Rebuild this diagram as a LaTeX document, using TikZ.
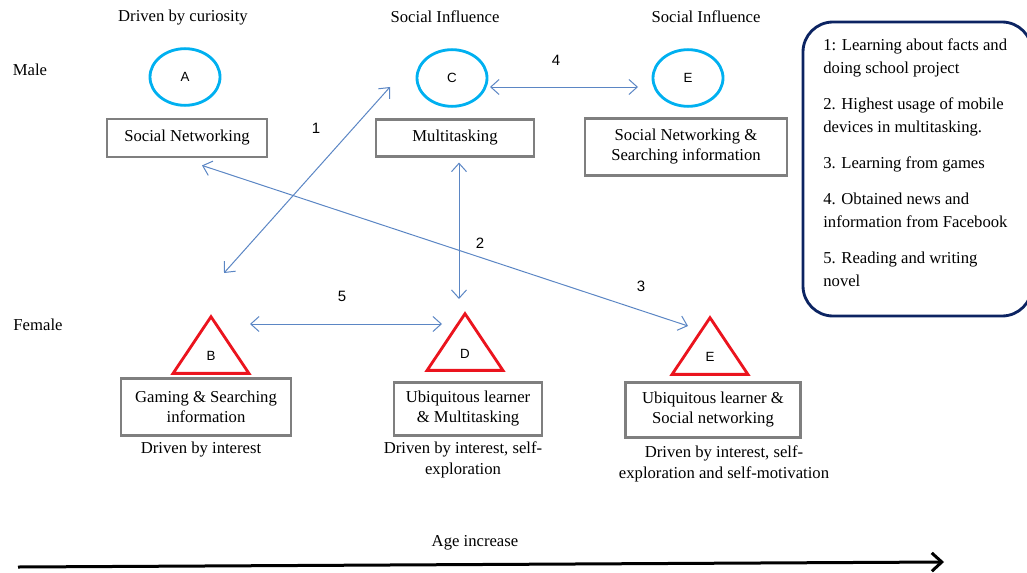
\documentclass[tikz,border=0pt]{standalone}
\usepackage{fontspec}
\setmainfont{Liberation Serif}
\newfontfamily\letterfont{Liberation Sans}
\usetikzlibrary{shapes.geometric,arrows.meta}
\definecolor{linkblue}{RGB}{91,134,196}
\definecolor{malecyan}{RGB}{0,176,240}
\definecolor{femalered}{RGB}{235,20,30}
\definecolor{boxgray}{RGB}{127,127,127}
\definecolor{keynavy}{RGB}{12,36,98}
\begin{document}
\begin{tikzpicture}[x=0.6pt,y=-0.6pt,>={Straight Barb[length=5pt,width=9pt]},
	male/.style={ellipse,draw=malecyan,line width=1.7pt,minimum width=42pt,minimum height=34pt,inner sep=0pt,font=\letterfont\footnotesize},
	female/.style={isosceles triangle,isosceles triangle stretches,shape border rotate=90,draw=femalered,line width=1.7pt,minimum width=45.5pt,minimum height=34pt,inner sep=0pt,anchor=apex},
	letter/.style={font=\letterfont\footnotesize},
	activity/.style={draw=boxgray,line width=1.5pt,align=center,inner sep=1pt},
	link/.style={<->,linkblue,line width=0.6pt},
	num/.style={font=\letterfont\small},
	caption/.style={align=center,font=\fontsize{10}{12.6}\selectfont}]
		\useasboundingbox (0,0) rectangle (1027,572);
		
		% rows
		\node (male) at (30,70) {Male};
		\node (female) at (38,325) {Female};
		
		% male group
		\node[male] (mA) at (185,77) {A};
		\node[male] (mC) at (452,78) {C};
		\node[male] (mE) at (688,78) {E};
		\node[activity,minimum width=96pt,minimum height=23pt] (bA) at (187,138) {Social Networking};
		\node[activity,minimum width=95pt,minimum height=22pt] (bC) at (455,138) {Multitasking};
		\node[activity,minimum width=121pt,minimum height=34pt] (bE) at (686,147) {Social Networking \&\\Searching information};
		\node (tA) at (183,18) {Driven by curiosity};
		\node (tC) at (445,17) {Social Influence};
		\node (tE) at (706,17) {Social Influence};
		
		% female group
		\node[female] (fB) at (211,313) {};
		\node[female] (fD) at (465,310) {};
		\node[female] (fF) at (710,314) {};
		\node[letter] (lB) at (211,356) {B};
		\node[letter] (lD) at (465,354) {D};
		\node[letter] (lF) at (710,357) {E};
		\node[activity,minimum width=102pt,minimum height=34pt] (bB) at (206,407) {Gaming \& Searching\\information};
		\node[activity,minimum width=89pt,minimum height=32pt] (bD) at (468,409) {Ubiquitous learner\\\& Multitasking};
		\node[activity,minimum width=105pt,minimum height=33pt] (bF) at (713,410) {Ubiquitous learner \&\\Social networking};
		\node[caption] (tB) at (201,450) {Driven by interest};
		\node[caption] (tD) at (463,460) {Driven by interest, self-\\exploration};
		\node[caption] (tF) at (724,464) {Driven by interest, self-\\exploration and self-motivation};
		
		% links
		\draw[link] ([shift={(13,-40)}]fB.apex) -- ([shift={(-62,9)}]mC.center);
		\draw[link] ([shift={(4,5)}]bC.south) -- ([shift={(-6,-11)}]fD.apex);
		\draw[link] ([shift={(15,7)}]bA.south) -- ([shift={(-22,12)}]fF.apex);
		\draw[link] ([shift={(38,9)}]mC.center) -- ([shift={(-50,9)}]mE.center);
		\draw[link] ([shift={(39,11)}]fB.apex) -- ([shift={(-23,14)}]fD.apex);
		\node[num] (n1) at (316,128) {1};
		\node[num] (n2) at (480,243) {2};
		\node[num] (n3) at (641,286) {3};
		\node[num] (n4) at (556,60) {4};
		\node[num] (n5) at (342,296) {5};
		
		% key
		\draw[keynavy,line width=1.7pt,rounded corners=18pt] (803,22) rectangle (1032,316);
		\node[anchor=north west,align=left,inner sep=0pt,font=\fontsize{10}{13.8}\selectfont] (key) at (823,38)
			{1: Learning about facts and\\doing school project\\[7.8pt]
			2. Highest usage of mobile\\devices in multitasking.\\[7.8pt]
			3. Learning from games\\[7.8pt]
			4. Obtained news and\\information from Facebook\\[7.8pt]
			5. Reading and writing\\novel};
		
		% age axis
		\coordinate (age0) at (18,567);
		\coordinate (age1) at (944,562);
		\draw[->,line width=1.8pt,>={Straight Barb[length=6pt,width=11pt]}] (age0) -- (age1);
		\node (age) at (475,543) {Age increase};
\end{tikzpicture}
\end{document}
